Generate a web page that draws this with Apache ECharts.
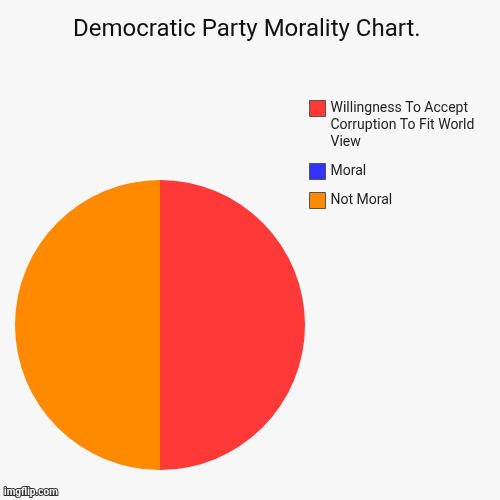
<!DOCTYPE html>
<html>
<head>
<meta charset="utf-8">
<script src="https://cdn.jsdelivr.net/npm/echarts@6/dist/echarts.min.js"></script>
<style>
  html, body { margin: 0; padding: 0; background: #f7f7f7; }
  #chart { width: 500px; height: 500px; }
</style>
</head>
<body>
<div id="chart"></div>
<script>
// data
var categories = ['Willingness To Accept Corruption To Fit World View', 'Moral', 'Not Moral'];
var values = [50, 0, 50];
var colors = ['#ff3838', '#3333ff', '#ff8a00'];
// two blank lines first so the wrapped label starts level with its box
var legendLabels = ['\n\nWillingness To Accept\nCorruption To Fit World\nView', 'Moral', 'Not Moral'];
var legendTops = [66, 163, 192];

var chart = echarts.init(document.getElementById('chart'));

var legends = categories.map(function (name, i) {
  return {
    left: 309,
    top: legendTops[i],
    padding: 0,
    orient: 'vertical',
    icon: 'rect',
    itemWidth: 16,
    itemHeight: 16,
    selectedMode: false,
    data: [name],
    itemStyle: { borderColor: '#555', borderWidth: 1 },
    formatter: function () { return legendLabels[i]; },
    textStyle: {
      fontFamily: 'Roboto',
      fontSize: 14,
      color: '#222',
      lineHeight: 17
    }
  };
});

chart.setOption({
  backgroundColor: '#f7f7f7',
  animation: false,
  title: {
    text: 'Democratic Party Morality Chart.',
    left: 73,
    top: 18,
    padding: 0,
    textStyle: { fontFamily: 'Roboto', fontSize: 24, fontWeight: 'normal', color: '#111' }
  },
  legend: legends,
  series: [{
    type: 'pie',
    center: [160, 325],
    radius: 145,
    startAngle: 90,
    clockwise: true,
    label: { show: false },
    labelLine: { show: false },
    emphasis: { disabled: true },
    data: categories.map(function (name, i) {
      return { name: name, value: values[i], itemStyle: { color: colors[i] } };
    })
  }],
  graphic: [{
    type: 'text',
    left: 3,
    top: 486,
    style: {
      text: 'imgflip.com',
      font: 'bold 10px Roboto',
      fill: '#fff',
      stroke: '#333',
      lineWidth: 2
    }
  }]
});
</script>
</body>
</html>
